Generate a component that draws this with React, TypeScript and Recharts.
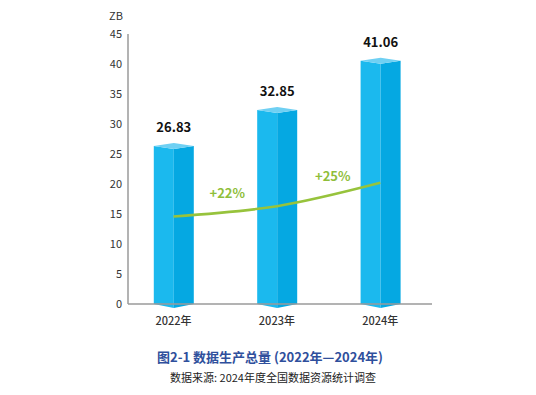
import { ComposedChart, Bar, Line, XAxis, YAxis, LabelList, ReferenceDot } from 'recharts'

const years = ['2022年', '2023年', '2024年']
const totals = [26.83, 32.85, 41.06]
const trend = [14.6, 16.3, 20.2]
const growthLabels = ['+22%', '+25%']
const growthX = [0.52, 1.54]
const growthY = [18.5, 21.3]
const yTicks = [0, 5, 10, 15, 20, 25, 30, 35, 40, 45]

const chartData = years.map((year, i) => ({
    idx: i,
    year,
    total: totals[i],
    trend: trend[i],
}))

const FONT = '"Noto Sans CJK SC", "Noto Sans", sans-serif'

// 3D-ish column: two front faces, a flat top and a notched bottom
const Column = (props: any) => {
    const { x, y, width, height } = props
    if (width == null || height == null) return null
    const mid = x + width / 2
    const bottom = y + height
    const t = 3
    return (
        <g>
            <polygon
                points={`${x},${y + t} ${mid},${y + 2 * t} ${mid},${bottom + 4} ${x},${bottom}`}
                fill="#1bb9ee"
            />
            <polygon
                points={`${mid},${y + 2 * t} ${x + width},${y + t} ${x + width},${bottom} ${mid},${bottom + 4}`}
                fill="#05a8e2"
            />
            <polygon
                points={`${x},${y + t} ${mid},${y} ${x + width},${y + t} ${mid},${y + 2 * t}`}
                fill="#6fd0f3"
            />
        </g>
    )
}

export default function App() {
    return (
        <div style={{ position: 'absolute', left: 0, top: 0, width: 536, height: 395, background: '#fff', fontFamily: FONT }}>
            <div style={{ position: 'absolute', left: 104, top: 7, width: 24, textAlign: 'center', fontSize: 11, color: '#333' }}>ZB</div>
            <ComposedChart
                width={536}
                height={340}
                data={chartData}
                margin={{ top: 34, right: 104, bottom: 0, left: 0 }}
            >
                <XAxis
                    dataKey="idx"
                    type="number"
                    domain={[-0.44, 2.5]}
                    allowDataOverflow
                    ticks={[0, 1, 2]}
                    tickFormatter={(v: number) => years[v] ?? ''}
                    height={36}
                    tickLine={false}
                    tickMargin={7}
                    axisLine={{ stroke: '#9a9a9a', strokeWidth: 1.5 }}
                    tick={{ fontSize: 11, fill: '#333', fontFamily: FONT, fontWeight: 500 }}
                />
                <YAxis
                    domain={[0, 45]}
                    ticks={yTicks}
                    width={128}
                    tickLine={false}
                    tickSize={4}
                    tickMargin={2}
                    axisLine={{ stroke: '#9a9a9a', strokeWidth: 1.5 }}
                    tick={{ fontSize: 11, fill: '#333', fontFamily: FONT }}
                />
                <Bar dataKey="total" barSize={40} shape={Column} isAnimationActive={false}>
                    <LabelList
                        dataKey="total"
                        position="top"
                        offset={11}
                        style={{ fontSize: 13, fontWeight: 700, fill: '#111', fontFamily: FONT }}
                    />
                </Bar>
                <Line
                    dataKey="trend"
                    type="monotone"
                    stroke="#97c33c"
                    strokeWidth={2.5}
                    dot={false}
                    activeDot={false}
                    isAnimationActive={false}
                />
                {growthLabels.map((g, i) => (
                    <ReferenceDot
                        key={g}
                        x={growthX[i]}
                        y={growthY[i]}
                        r={1}
                        fill="none"
                        stroke="none"
                        label={{ value: g, position: 'center', fill: '#8fbe3a', fontSize: 13, fontWeight: 700, fontFamily: FONT }}
                    />
                ))}
            </ComposedChart>
            <div style={{ position: 'absolute', left: 0, top: 347, width: 540, textAlign: 'center', fontSize: 13, fontWeight: 700, color: '#2f4f9c' }}>
                图2-1 数据生产总量 (2022年—2024年)
            </div>
            <div style={{ position: 'absolute', left: 0, top: 369, width: 546, textAlign: 'center', fontSize: 11, color: '#222' }}>
                数据来源: 2024年度全国数据资源统计调查
            </div>
        </div>
    )
}
